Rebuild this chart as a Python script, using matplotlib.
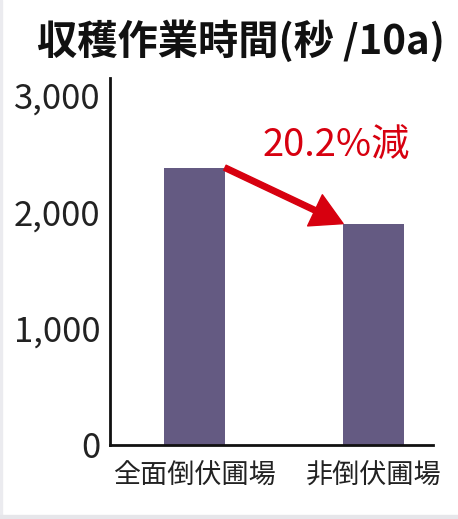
import numpy as np
import matplotlib
matplotlib.use('Agg')
import matplotlib.pyplot as plt
from matplotlib.ticker import FuncFormatter
from matplotlib.patches import Rectangle

plt.rcParams['font.family'] = ['Noto Sans CJK JP', 'DejaVu Sans']

# データ
categories = ['全面倒伏圃場', '非倒伏圃場']
times = [2380, 1900]
yticks = [0, 1000, 2000, 3000]
title = '収穫作業時間(秒 /10a)'
note = '20.2%減'

bar_color = '#645a82'
red = '#d7000f'

fig = plt.figure(figsize=(4.58, 5.19), dpi=100)
# 画像の縁の薄いグレー
fig.patches.append(Rectangle((0, 0), 2/458, 1, transform=fig.transFigure, color='#ebebef', zorder=0))
fig.patches.append(Rectangle((0, 0), 1, 4/519, transform=fig.transFigure, color='#e6e6ea', zorder=0))

ax = fig.add_axes([110/458, 1 - 445/519, (433 - 110)/458, (445 - 78)/519])

x = np.arange(len(categories))
w = 0.34
ax.bar(x, times, width=w, color=bar_color, zorder=2)

ax.set_xlim(-0.472, 1.332)
ax.set_ylim(0, 3150)
ax.set_yticks(yticks)
ax.yaxis.set_major_formatter(FuncFormatter(lambda v, p: f'{int(v):,}'))
ax.set_xticks(x)
ax.set_xticklabels(categories, fontsize=19.5)
ax.tick_params(axis='y', length=0, pad=7, labelsize=25, colors='#222222')
ax.tick_params(axis='x', length=0, pad=13, colors='#222222')

for s in ['top', 'right']:
    ax.spines[s].set_visible(False)
for s in ['left', 'bottom']:
    ax.spines[s].set_linewidth(2)
    ax.spines[s].set_color('#111111')

# 矢印（棒の上端から上端へ）
ax.annotate('', xy=(x[1] - w/2, times[1]), xytext=(x[0] + w/2, times[0]),
            arrowprops=dict(arrowstyle='simple,head_width=1.24,head_length=1.12,tail_width=0.2',
                            mutation_scale=20, color=red, shrinkA=0, shrinkB=0), zorder=3)
ax.text(0.793, 2565, note, color=red, fontsize=27.5, ha='center', va='center')

fig.text(0.527, 1 - 42/519, title, fontsize=29, fontweight='bold', ha='center', va='center', color='#111111')

fig.savefig('out.png', dpi=100)
